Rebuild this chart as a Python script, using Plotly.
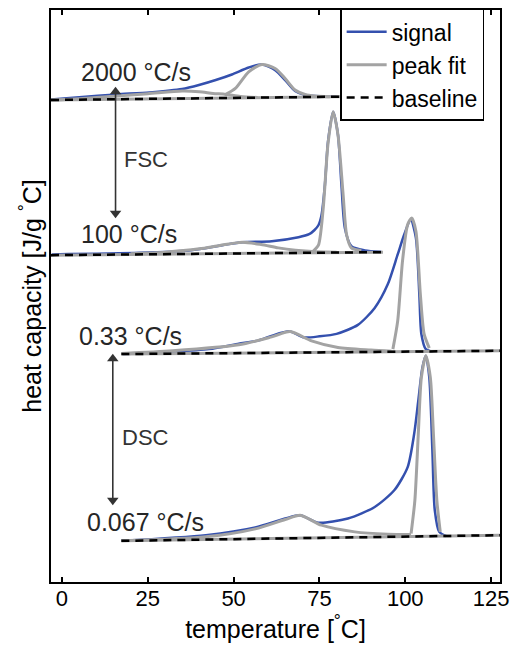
import plotly.graph_objects as go

# ---------------- data (temperature in °C, heat capacity in arbitrary stacked units) ----------------
rates = ["2000 °C/s", "100 °C/s", "0.33 °C/s", "0.067 °C/s"]

# 2000 °C/s (FSC)
sig1_T = [-3.2, 5, 15.8, 25.5, 35.0, 39.9, 44.8, 49.5, 54.4, 58.2, 62.1, 65.0, 67.9, 70.8, 75.5, 80]
sig1_y = [484.2, 486.5, 489.3, 491.3, 494.7, 498.7, 503.7, 509.3, 516.3, 519.3, 513.7, 503.7, 492.7, 488.7, 487.3, 487.0]
fit1a_T = [-3.2, 5, 15, 25, 35, 40, 44, 47.7, 52, 57]
fit1a_y = [483.7, 485.0, 487.5, 490.0, 492.7, 492.0, 490.3, 489.3, 487.2, 486.2]
fit1b_T = [47.7, 50.5, 54.4, 58.2, 62.1, 65.0, 67.9, 70.8, 73.7, 78]
fit1b_y = [489.3, 495.3, 512.0, 519.3, 515.3, 505.3, 493.7, 489.3, 487.7, 487.0]
base1_T = [-3.2, 85]
base1_y = [483.7, 487.2]

# 100 °C/s (FSC)
sig2_T = [-3.0, 22.6, 37.0, 46.7, 52.5, 61.1, 68.9, 72.0, 73.5, 74.7, 75.6, 76.6, 77.5, 79.0, 80.4, 81.4, 82.4, 84.3, 88.2, 93.0]
sig2_y = [328.7, 330.3, 332.7, 338.0, 341.0, 342.0, 346.0, 349.0, 353.0, 358.0, 368.0, 398.7, 442.0, 472.0, 448.7, 399.0, 355.3, 337.0, 332.7, 331.3]
fit2a_T = [20, 30, 40, 46, 52.5, 58, 63, 68, 74, 80]
fit2a_y = [329.5, 331.0, 334.3, 337.7, 341.0, 338.7, 335.3, 333.0, 331.5, 331.0]
fit2b_T = [73.2, 74.7, 76.1, 77.5, 79.0, 80.4, 81.9, 82.9, 84.3, 87.2]
fit2b_y = [332.0, 338.0, 375.0, 440.0, 472.0, 448.7, 388.7, 348.7, 335.3, 332.7]
base2_T = [-3.2, 93.5]
base2_y = [328.0, 331.0]

# 0.33 °C/s (DSC)
sig3_T = [17.7, 32.2, 42.8, 51.5, 57.3, 61.0, 66.4, 70.5, 75.0, 80.0, 86.2, 91.1, 94.9, 97.8, 99.7, 101.6, 103.1, 104.1, 104.7, 106.0, 108.0]
sig3_y = [228.7, 231.0, 233.7, 239.0, 242.5, 247.0, 251.5, 245.5, 246.5, 249.0, 258.0, 275.0, 298.7, 328.7, 348.7, 363.7, 345.3, 288.7, 248.7, 233.7, 231.0]
fit3a_T = [17.3, 32.2, 51.5, 61.1, 66.5, 72.7, 80.4, 90, 96]
fit3a_y = [229.3, 232.0, 238.0, 246.0, 251.3, 242.0, 235.3, 232.7, 231.5]
fit3b_T = [96.4, 97.8, 99.2, 100.7, 101.9, 103.1, 104.4, 105.5, 107]
fit3b_y = [233.7, 262.0, 322.0, 358.7, 365.3, 352.0, 288.7, 248.7, 234.7]
base3_T = [17.3, 127.6]
base3_y = [228.7, 232.0]

# 0.067 °C/s (DSC)
sig4_T = [17.3, 41.9, 56.3, 65.0, 69.4, 74.7, 83.3, 91.1, 96.8, 100.7, 102.6, 103.8, 105.0, 106.0, 107.0, 107.9, 108.6, 109.9, 112.0]
sig4_y = [41.3, 47.0, 54.7, 63.7, 67.0, 59.5, 63.7, 75.3, 92.0, 115.3, 148.7, 182.0, 215.3, 227.0, 205.3, 132.0, 72.0, 50.3, 46.0]
fit4a_T = [17.3, 41.9, 56.3, 65.0, 69.4, 75.6, 85.3, 94.9, 101.7]
fit4a_y = [41.3, 45.3, 53.3, 62.7, 67.0, 57.0, 50.3, 48.0, 47.7]
fit4b_T = [101.7, 102.8, 103.8, 104.7, 106.0, 107.3, 108.2, 109.2, 110.2]
fit4b_y = [48.7, 82.0, 148.7, 205.3, 227.0, 205.3, 148.7, 82.0, 50.3]
base4_T = [17.3, 127.6]
base4_y = [41.3, 47.0]

x_ticks = [0, 25, 50, 75, 100, 125]

# label anchors (temperature, heat capacity)
label_T = [21.7, 19.5, 20.1, 24.2]
label_y = [512, 349, 247, 60]
method_labels = ["FSC", "DSC"]
method_T = [24.5, 24.2]
method_y = [424, 145]
# double arrows (heads drawn as markers at both ends)
arrow_T = [15.6, 14.8]
arrow_top = [492, 224]
arrow_bot = [370, 82]

# ---------------- figure ----------------
BLUE = "#3450ae"
GREY = "#a3a3a3"
DARK = "#333333"
FONT = "Liberation Sans, Arial, sans-serif"

signals = [(sig1_T, sig1_y), (sig2_T, sig2_y), (sig3_T, sig3_y), (sig4_T, sig4_y)]
fits = [(fit1a_T, fit1a_y), (fit1b_T, fit1b_y), (fit2a_T, fit2a_y), (fit2b_T, fit2b_y),
        (fit3a_T, fit3a_y), (fit3b_T, fit3b_y), (fit4a_T, fit4a_y), (fit4b_T, fit4b_y)]
bases = [(base1_T, base1_y), (base2_T, base2_y), (base3_T, base3_y), (base4_T, base4_y)]

fig = go.Figure()
for i, (t, y) in enumerate(signals):
    fig.add_trace(go.Scatter(x=t, y=y, mode="lines", name="signal", legendgroup="signal",
                             showlegend=(i == 0),
                             line=dict(color=BLUE, width=2.5, shape="spline", smoothing=0.7)))
for i, (t, y) in enumerate(fits):
    fig.add_trace(go.Scatter(x=t, y=y, mode="lines", name="peak fit", legendgroup="fit",
                             showlegend=(i == 0),
                             line=dict(color=GREY, width=3, shape="spline", smoothing=0.7)))
for t, y in bases:
    fig.add_trace(go.Scatter(x=t, y=y, mode="lines", name="peak fit", legendgroup="fit",
                             showlegend=False, line=dict(color=GREY, width=3)))
for i, (t, y) in enumerate(bases):
    fig.add_trace(go.Scatter(x=t, y=y, mode="lines", name="baseline", legendgroup="base",
                             showlegend=(i == 0),
                             line=dict(color="black", width=2.5, dash="8px,6px")))
for t, top, bot in zip(arrow_T, arrow_top, arrow_bot):
    fig.add_trace(go.Scatter(x=[t, t], y=[top, bot], mode="lines+markers", showlegend=False,
                             hoverinfo="skip",
                             line=dict(color=DARK, width=1.6),
                             marker=dict(symbol=["triangle-up", "triangle-down"], size=10,
                                         color=DARK, line=dict(width=0))))

annotations = []
for txt, t, y in zip(rates, label_T, label_y):
    annotations.append(dict(x=t, y=y, text=txt, showarrow=False, xref="x", yref="y",
                            font=dict(size=25, color="#262626", family=FONT)))
for txt, t, y in zip(method_labels, method_T, method_y):
    annotations.append(dict(x=t, y=y, text=txt, showarrow=False, xref="x", yref="y",
                            font=dict(size=22, color=DARK, family=FONT)))

fig.update_layout(
    width=517, height=649,
    margin=dict(l=51, r=14, t=8, b=67),
    paper_bgcolor="white", plot_bgcolor="white",
    font=dict(family=FONT, color="black"),
    showlegend=True,
    legend=dict(x=0.644, y=1.002, xanchor="left", yanchor="top",
                bgcolor="white", bordercolor="black", borderwidth=1.5,
                font=dict(size=23, family=FONT, color="black"),
                tracegroupgap=0, itemwidth=40),
    annotations=annotations,
    xaxis=dict(range=[-3.2, 127.6], tickvals=x_ticks, ticks="inside", ticklen=5, tickwidth=1.5,
               tickcolor="black", showline=True, linecolor="black", linewidth=2, mirror="ticks",
               showgrid=False, zeroline=False, tickfont=dict(size=22, family=FONT, color="black"),
               ticklabelstandoff=-4,
               title=dict(text="temperature [<sup>°</sup>C]", font=dict(size=25, family=FONT, color="black"),
                          standoff=0)),
    yaxis=dict(range=[0, 574], showticklabels=False, ticks="", showline=True, linecolor="black",
               linewidth=2, mirror=True, showgrid=False, zeroline=False,
               title=dict(text="heat capacity [J/g <sup>°</sup>C]",
                          font=dict(size=25, family=FONT, color="black"), standoff=0)),
)

fig.write_html("out.html")
